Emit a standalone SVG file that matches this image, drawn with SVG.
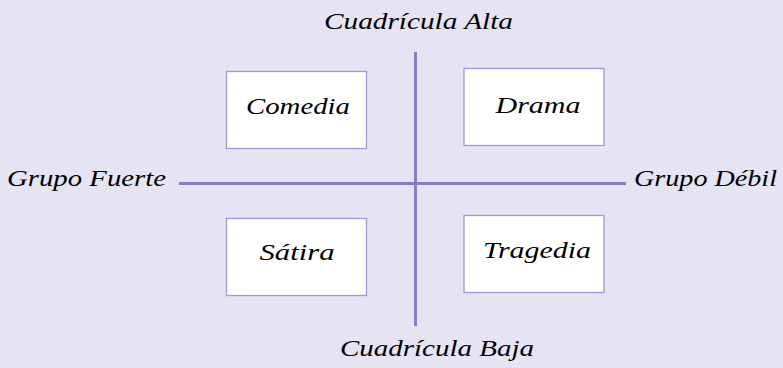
<svg xmlns="http://www.w3.org/2000/svg" width="783" height="368" viewBox="0 0 783 368">
<style>
.t{font-family:"Liberation Serif","DejaVu Serif",serif;font-style:italic;font-size:24px;fill:#000}
.box{fill:#fff;stroke:#a497d4;stroke-width:1.3}
.axis{stroke:#8b7cc6;stroke-width:3;fill:none}
</style>
<rect width="783" height="368" fill="#e6e3f3"/>
<g id="connectors">
<line class="axis" x1="415.5" y1="52" x2="415.5" y2="326"/>
<line class="axis" x1="179" y1="183.5" x2="626" y2="183.5"/>
</g>
<g id="label-alta"><text class="t" x="418.5" y="29" text-anchor="middle" textLength="189" lengthAdjust="spacingAndGlyphs">Cuadrícula Alta</text></g>
<g id="label-baja"><text class="t" x="437" y="356" text-anchor="middle" textLength="194" lengthAdjust="spacingAndGlyphs">Cuadrícula Baja</text></g>
<g id="label-fuerte"><text class="t" x="7" y="186" textLength="159" lengthAdjust="spacingAndGlyphs">Grupo Fuerte</text></g>
<g id="label-debil"><text class="t" x="634" y="186" textLength="143" lengthAdjust="spacingAndGlyphs">Grupo Débil</text></g>
<g id="comedia"><rect class="box" x="226.5" y="71.5" width="140" height="77"/><text class="t" x="298" y="114" text-anchor="middle" textLength="104" lengthAdjust="spacingAndGlyphs">Comedia</text></g>
<g id="drama"><rect class="box" x="464" y="68.5" width="140" height="77"/><text class="t" x="538" y="113" text-anchor="middle" textLength="85" lengthAdjust="spacingAndGlyphs">Drama</text></g>
<g id="satira"><rect class="box" x="226.5" y="218.5" width="140" height="77"/><text class="t" x="297" y="260" text-anchor="middle" textLength="75" lengthAdjust="spacingAndGlyphs">Sátira</text></g>
<g id="tragedia"><rect class="box" x="464" y="215.5" width="140" height="77"/><text class="t" x="537" y="258" text-anchor="middle" textLength="108" lengthAdjust="spacingAndGlyphs">Tragedia</text></g>
</svg>
